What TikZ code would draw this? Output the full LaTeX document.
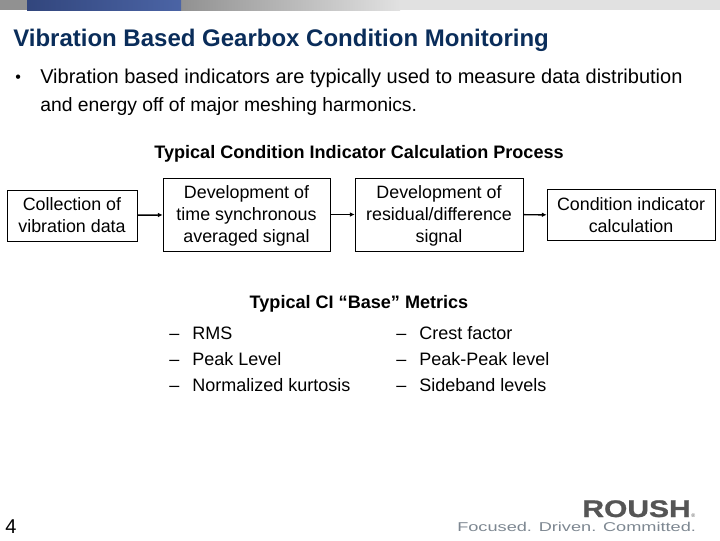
\documentclass[tikz,border=0pt]{standalone}
\usepackage{fontspec}
\setmainfont{Liberation Sans}
\newfontfamily\tagfont[FakeStretch=1.42]{Liberation Sans}
\newfontfamily\logofont[FakeStretch=1.25,FakeBold=1]{Liberation Sans Bold}
\usetikzlibrary{arrows.meta}
\definecolor{titleblue}{RGB}{10,45,90}
\definecolor{barblue}{RGB}{75,100,165}
\definecolor{bardark}{RGB}{50,70,125}
\definecolor{bargrey}{RGB}{145,145,145}
\definecolor{barlight}{RGB}{225,225,225}
\definecolor{logogrey}{RGB}{85,85,85}
\definecolor{taggrey}{RGB}{125,135,145}
\tikzset{
  procbox/.style={draw,line width=.6pt,align=center,font=\fontsize{13.4}{16.5}\selectfont,inner sep=0pt,text depth=0pt},
  bodytext/.style={anchor=base west,inner sep=0pt,font=\fontsize{15}{18}\selectfont},
  listtext/.style={anchor=base west,inner sep=0pt,font=\fontsize{13.5}{16}\selectfont},
  headtext/.style={anchor=base,inner sep=0pt,font=\fontsize{13.55}{16}\selectfont\bfseries},
  flow/.style={-{Latex[length=3.5pt,width=3.5pt]},line width=1.1pt}
}
\begin{document}
\begin{tikzpicture}[x=.75pt,y=-.75pt]
\useasboundingbox (0,0) rectangle (720,540);
% top bar
\fill[bargrey] (0,0) rectangle (181,10);
\fill[left color=bargrey,right color=barlight] (181,0) rectangle (400,10);
\fill[barlight] (400,0) rectangle (720,10);
\fill[left color=bardark,right color=barblue] (27,0) rectangle (181,10);
% title and bullet
\node[anchor=base west,inner sep=0pt,text=titleblue,font=\fontsize{18}{20}\selectfont\bfseries] (title) at (13,46) {Vibration Based Gearbox Condition Monitoring};
\node[bodytext,font=\fontsize{12}{14}\selectfont] (bullet) at (15,82) {•};
\node[bodytext] (line1) at (40,83) {Vibration based indicators are typically used to measure data distribution};
\node[bodytext,font=\fontsize{14.5}{18}\selectfont] (line2) at (40,111) {and energy off of major meshing harmonics.};
% process
\node[headtext] (prochead) at (359,158) {Typical Condition Indicator Calculation Process};
\node[procbox,minimum width=97.5pt,minimum height=38.25pt] (collect) at (72,215.5) {Collection of\\vibration data};
\node[procbox,minimum width=125.25pt,minimum height=54.75pt] (tsa) at (246.5,214.5) {Development of\\time synchronous\\averaged signal};
\node[procbox,minimum width=126pt,minimum height=54.75pt] (resid) at (439,214.5) {Development of\\residual/difference\\signal};
\node[procbox,minimum width=126pt,minimum height=38.25pt] (calc) at (631,215) {Condition indicator\\calculation};
\draw[flow] (collect) -- (tsa);
\draw[flow] (tsa) -- (resid);
\draw[flow] (resid) -- (calc);
% metrics
\node[headtext] (basehead) at (359,308) {Typical CI “Base” Metrics};
\foreach \n/\y/\ltxt/\rtxt in {a/339/RMS/Crest factor,b/365/Peak Level/Peak-Peak level,c/391/Normalized kurtosis/Sideband levels}{
  \node[listtext] (ld\n) at (169,\y) {–};
  \node[listtext] (lt\n) at (192,\y) {\ltxt};
  \node[listtext] (rd\n) at (396,\y) {–};
  \node[listtext] (rt\n) at (419,\y) {\rtxt};
}
% page number and logo
\node[bodytext] (pagenum) at (5,533) {4};
\node[anchor=base east,inner sep=0pt,text=logogrey,font=\fontsize{18}{18}\logofont] (roush) at (691,517) {ROUSH};
\node[anchor=base west,inner sep=0pt,text=logogrey,font=\fontsize{4}{4}\selectfont] (regmark) at (691,517) {®};
\node[anchor=base west,inner sep=0pt,text=taggrey,font=\fontsize{9.6}{10}\tagfont] (tagline) at (457,531) {Focused. Driven. Committed.};
\end{tikzpicture}
\end{document}
